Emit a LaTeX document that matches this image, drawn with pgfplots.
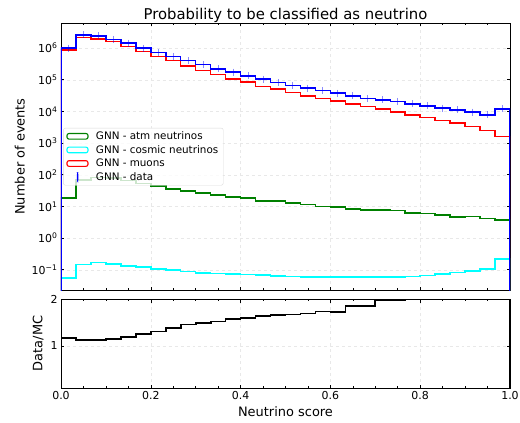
\documentclass[border=0pt]{standalone}
\usepackage{fontspec}
\setmainfont{DejaVu Sans}
\usepackage{pgfplots}
\usepackage{pgfplotstable}
\pgfplotsset{compat=1.18}
\definecolor{mplgreen}{RGB}{0,128,0}
\definecolor{mplcyan}{RGB}{0,255,255}
\definecolor{mplred}{RGB}{255,0,0}
\definecolor{mplblue}{RGB}{0,0,255}

% bin edges (30 bins on [0,1]); first/last rows close the step outline
\pgfplotstableread{
x       atm    cos     mu      data    ratio
0       1e-3   1e-3    1e-3    1e-3    -1
0       18.3   0.0546  8.8e5   1.0e6   1.164
0.03333 69.5   0.147   2.17e6  2.6e6   1.121
0.06667 82     0.170   1.97e6  2.45e6  1.121
0.1     78     0.155   1.62e6  1.9e6   1.15
0.13333 66     0.134   1.13e6  1.44e6  1.193
0.16667 54     0.124   7.8e5   1.0e6   1.25
0.2     45     0.105   5.4e5   7.3e5   1.307
0.23333 36     0.0975  4.0e5   5.4e5   1.379
0.26667 31     0.0885  2.76e5  4.0e5   1.457
0.3     27     0.080   1.97e5  3.0e5   1.493
0.33333 23.3   0.0765  1.44e5  2.2e5   1.521
0.36667 20.2   0.073   1.07e5  1.74e5  1.571
0.4     18.3   0.071   8.4e4   1.33e5  1.593
0.43333 15     0.068   6.1e4   1.05e5  1.636
0.46667 15     0.0646  5.1e4   8.2e4   1.657
0.5     12.7   0.0615  4.0e4   6.6e4   1.671
0.53333 11.6   0.060   3.1e4   5.4e4   1.693
0.56667 10     0.060   2.6e4   4.6e4   1.736
0.6     9.5    0.060   2.17e4  3.8e4   1.721
0.63333 8.4    0.060   1.7e4   3.1e4   1.857
0.66667 7.8    0.060   1.44e4  2.6e4   1.857
0.7     7.65   0.060   1.18e4  2.3e4   1.986
0.73333 7.5    0.060   9.5e3   2.07e4  1.986
0.76667 6.3    0.0615  7.8e3   1.74e4  2.2
0.8     5.9    0.066   6.5e3   1.5e4   2.3
0.83333 5.45   0.073   5.2e3   1.27e4  2.4
0.86667 4.6    0.082   4.3e3   1.13e4  2.6
0.9     4.9    0.091   3.35e3  9.5e3   2.8
0.93333 4.2    0.105   2.5e3   7.8e3   3.1
0.96667 3.7    0.217   1.6e3   1.2e4   7.5
1       3.7    0.217   1.6e3   1.2e4   7.5
1       1e-3   1e-3    1e-3    1e-3    -1
}\hist

% data points at bin centres
\pgfplotstableread{
xc      data
0.01667 1.0e6
0.05    2.6e6
0.08333 2.45e6
0.11667 1.9e6
0.15    1.44e6
0.18333 1.0e6
0.21667 7.3e5
0.25    5.4e5
0.28333 4.0e5
0.31667 3.0e5
0.35    2.2e5
0.38333 1.74e5
0.41667 1.33e5
0.45    1.05e5
0.48333 8.2e4
0.51667 6.6e4
0.55    5.4e4
0.58333 4.6e4
0.61667 3.8e4
0.65    3.1e4
0.68333 2.6e4
0.71667 2.3e4
0.75    2.07e4
0.78333 1.74e4
0.81667 1.5e4
0.85    1.27e4
0.88333 1.13e4
0.91667 9.5e3
0.95    7.8e3
0.98333 1.2e4
}\pts

\pgfplotsset{
  histax/.style={
    scale only axis, width=449bp,
    xmin=0, xmax=1,
    xtick={0,0.2,0.4,0.6,0.8,1}, minor x tick num=3,
    axis line style={black, line width=0.8pt},
    tick align=inside, major tick length=3.5bp, minor tick length=2bp,
    tick style={black, line width=0.6pt},
    grid=major, grid style={gray!18, line width=0.5pt, dashed},
    tick label style={font=\fontsize{11}{13}\selectfont},
    label style={font=\fontsize{13}{15}\selectfont},
    /pgf/number format/assume math mode=true,
  },
  stepl/.style={const plot, line width=1.5pt, mark=none},
  boxleg/.style={legend image code/.code={\draw[##1, line width=1.1pt] (0bp,-2.8bp) rectangle (21bp,2.8bp); \path[draw=none] (27bp,0bp);}},
}

\begin{document}
\begin{tikzpicture}
\path[use as bounding box] (-61bp,23bp) rectangle (459bp,-400bp);

\begin{axis}[histax, at={(0,0)}, anchor=north west, height=267bp,
  ymode=log, ymin=0.023, ymax=6.2e6, yminorticks=false,
  xticklabels={},
  ytick={1e-1,1,10,100,1000,1e4,1e5,1e6},
  yticklabels={10\textsuperscript{−1},10\textsuperscript{0},10\textsuperscript{1},10\textsuperscript{2},10\textsuperscript{3},10\textsuperscript{4},10\textsuperscript{5},10\textsuperscript{6}},
  ylabel={Number of events},
  title={Probability to be classified as neutrino},
  title style={font=\fontsize{14.9}{17}\selectfont, yshift=-9bp},
  legend style={at={(0.005,0.607)}, anchor=north west,
    font=\fontsize{10.4}{12}\selectfont, draw=gray!30, rounded corners=2pt,
    fill=white, fill opacity=0.8, text opacity=1, draw opacity=1,
    row sep=0.3bp, inner xsep=3bp, inner ysep=1.5bp},
  legend cell align=left,
]
\addplot[stepl, mplgreen, boxleg] table[x=x, y=atm] {\hist};
\addlegendentry{GNN - atm neutrinos}
\addplot[stepl, mplcyan, boxleg] table[x=x, y=cos] {\hist};
\addlegendentry{GNN - cosmic neutrinos}
\addplot[stepl, mplred, boxleg] table[x=x, y=mu] {\hist};
\addlegendentry{GNN - muons}
\addlegendimage{legend image code/.code={\fill[mplblue, fill opacity=1, draw=none] (9.9bp,-5bp) rectangle (11.3bp,5bp); \path[draw=none] (0bp,0bp) (27bp,0bp);}}
\addlegendentry{GNN - data}
\addplot[stepl, mplblue, forget plot] table[x=x, y=data] {\hist};
\addplot[only marks, mark=+, mark size=3.5bp, mplblue, opacity=0.45,
  mark options={line width=1pt}, forget plot] table[x=xc, y=data] {\pts};
\end{axis}

\begin{axis}[histax, at={(0,-276bp)}, anchor=north west, height=89bp,
  ymin=0.1, ymax=2, ytick={1,2},
  xticklabel style={/pgf/number format/.cd, fixed, fixed zerofill, precision=1},
  ylabel={Data/MC}, xlabel={Neutrino score},
]
\addplot[stepl, black, line width=1.7pt] table[x=x, y=ratio] {\hist};
\end{axis}
\end{tikzpicture}
\end{document}
